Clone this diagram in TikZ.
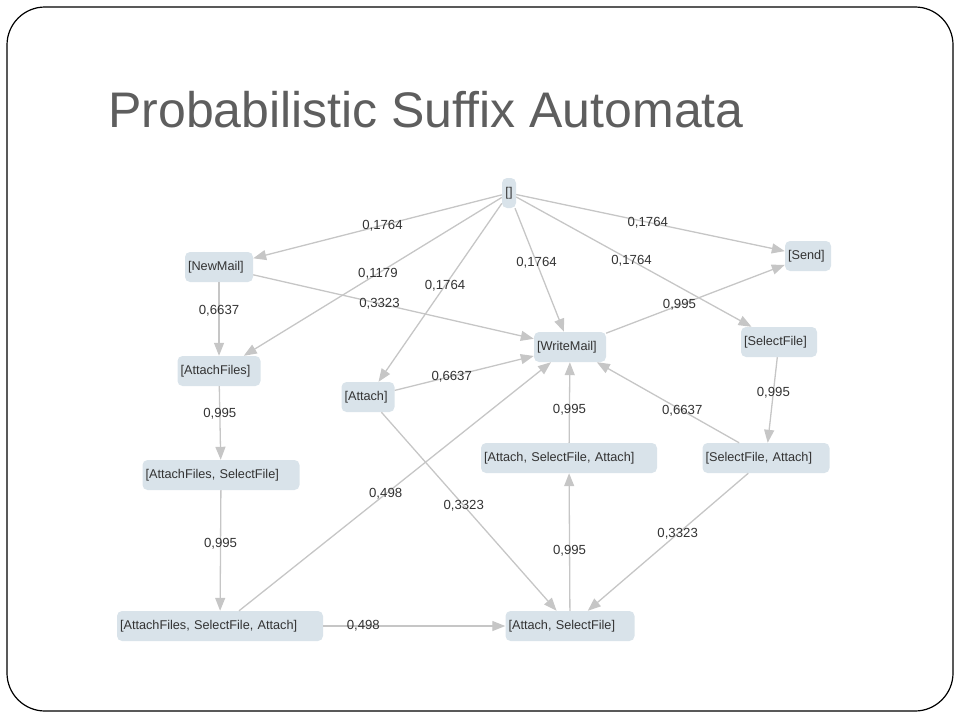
\documentclass[tikz,border=0pt]{standalone}
\usepackage{fontspec}
\setmainfont{Liberation Sans}
\usetikzlibrary{arrows.meta}
\definecolor{boxfill}{HTML}{D9E3EA}
\definecolor{edgegray}{HTML}{C6C6C6}
\definecolor{txtgray}{HTML}{333333}
\definecolor{titlegray}{HTML}{5E5E5E}
\tikzset{suffix/.style={rectangle, rounded corners=5pt, fill=boxfill, text=txtgray,
inner xsep=3pt, inner ysep=0pt, minimum height=30pt, text width=#1, align=left,
font=\fontsize{12.7}{14}\selectfont},
suffix/.default=8pt,
prob/.style={text=txtgray, inner sep=1pt, font=\fontsize{13.2}{15}\selectfont},
trans/.style={->, draw=edgegray, line width=1.3pt},
>={Triangle[length=13pt,width=10pt]}}

\begin{document}
\begin{tikzpicture}[x=1pt,y=-1pt]
  \useasboundingbox (0,0) rectangle (960,720);
  \draw [line width=1.2pt, rounded corners=38pt] (7,7) rectangle (953,711);
  \node (title) [anchor=base west, inner sep=0pt, text=titlegray,
    font=\fontsize{50}{60}\selectfont] at (108,127) {Probabilistic Suffix Automata};

  % states
  \node (e) [suffix=8pt, align=center] at (509,193) {[]};
  \node (newmail) [suffix=62pt] at (219,267) {[NewMail]};
  \node (send) [suffix=40pt] at (808,256) {[Send]};
  \node (writemail) [suffix=66pt] at (570,347) {[WriteMail]};
  \node (selfile) [suffix=70pt] at (779,342) {[SelectFile]};
  \node (attfiles) [suffix=77pt] at (219,371) {[AttachFiles]};
  \node (attach) [suffix=47pt] at (368,397) {[Attach]};
  \node (asa) [suffix=170pt] at (569,458) {[Attach, SelectFile, Attach]};
  \node (sfa) [suffix=121pt] at (766,458) {[SelectFile, Attach]};
  \node (afsf) [suffix=151pt] at (221,475) {[AttachFiles, SelectFile]};
  \node (afsfa) [suffix=200pt] at (220,626) {[AttachFiles, SelectFile, Attach]};
  \node (as) [suffix=123pt] at (570,626) {[Attach, SelectFile]};

  % transitions
  \draw [trans] (e) -- node (p1) [prob, pos=.48] {0,1764} (newmail);
  \draw [trans] (e) -- node (p2) [prob, pos=.48] {0,1179} (attfiles);
  \draw [trans] (e) -- node (p3) [prob, pos=.46] {0,1764} (attach);
  \draw [trans] (e) -- node (p4) [prob, pos=.44] {0,1764} (writemail);
  \draw [trans] (e) -- node (p5) [prob, pos=.49] {0,1764} (selfile);
  \draw [trans] (e) -- node (p6) [prob, pos=.49] {0,1764} (send);
  \draw [trans] (newmail) -- node (p7) [prob, pos=.39] {0,6637} (attfiles);
  \draw [trans] (newmail) -- node (p8) [prob, pos=.45] {0,3323} (writemail);
  \draw [trans] (attfiles) -- node (p9) [prob, pos=.37] {0,995} (afsf);
  \draw [trans] (afsf) -- node (p10) [prob, pos=.44] {0,995} (afsfa);
  \draw [trans] (afsfa) -- node (p11) [prob, pos=.47] {0,498} (writemail);
  \draw [trans] (afsfa) -- node (p12) [prob, pos=.22] {0,498} (as);
  \draw [trans] (attach) -- node (p13) [prob, pos=.41] {0,6637} (writemail);
  \draw [trans] (attach) -- node (p14) [prob, pos=.47] {0,3323} (as);
  \draw [trans] (as) -- node (p15) [prob, pos=.44] {0,995} (asa);
  \draw [trans] (asa) -- node (p16) [prob, pos=.41] {0,995} (writemail);
  \draw [trans] (sfa) -- node (p17) [prob, pos=.40] {0,6637} (writemail);
  \draw [trans] (sfa) -- node (p18) [prob, pos=.44] {0,3323} (as);
  \draw [trans] (selfile) -- node (p19) [prob, pos=.41] {0,995} (sfa);
  \draw [trans] (writemail) -- node (p20) [prob, pos=.41] {0,995} (send);
\end{tikzpicture}
\end{document}
